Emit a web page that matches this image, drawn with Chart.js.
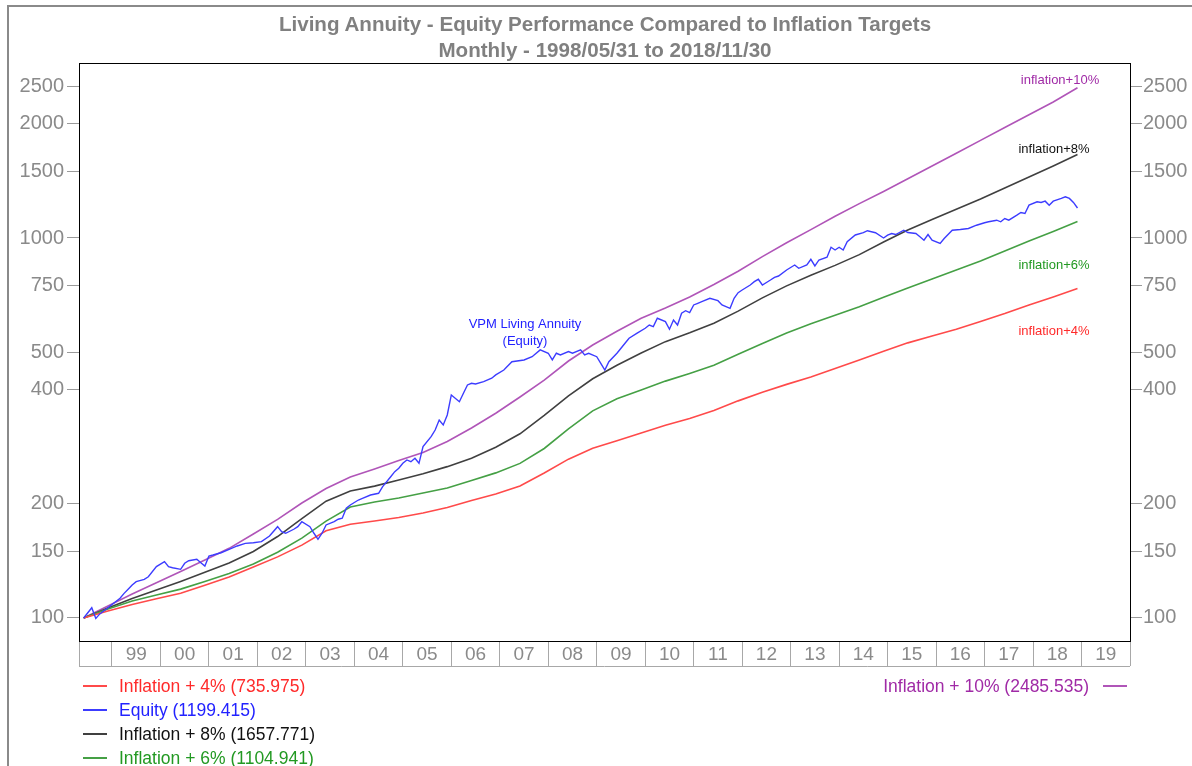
<!DOCTYPE html>
<html>
<head>
<meta charset="utf-8">
<script src="https://cdn.jsdelivr.net/npm/chart.js"></script>
<style>
  html, body { margin:0; padding:0; background:#fff; }
  body { width:1192px; height:766px; overflow:hidden; position:relative; font-family:'Liberation Sans', Arial, sans-serif; }
  #frameTop { position:absolute; left:7px; top:5px; width:1185px; height:2px; background:#8a8a8a; }
  #frameLeft { position:absolute; left:7px; top:5px; width:2px; height:761px; background:#8a8a8a; }
  #title { position:absolute; left:0; top:11px; width:1210px; text-align:center; color:#808080; font-weight:bold; font-size:20.6px; line-height:26px; }
  canvas { position:absolute; left:0; top:0; }
  .leg { position:absolute; font-size:17.5px; line-height:22px; white-space:nowrap; }
  .sw { position:absolute; height:1.5px; width:24px; }
</style>
</head>
<body>
<div id="frameTop"></div>
<div id="frameLeft"></div>
<canvas id="c" width="1192" height="766"></canvas>
<div id="title"></div>
<div id="legend"></div>
<script>
// ---------------- data ----------------
const titleLines = ['Living Annuity - Equity Performance Compared to Inflation Targets', 'Monthly - 1998/05/31 to 2018/11/30'];
const yearLabels = ['99','00','01','02','03','04','05','06','07','08','09','10','11','12','13','14','15','16','17','18','19'];
const yTicks = [100, 150, 200, 400, 500, 750, 1000, 1500, 2000, 2500];

const infDates = ['1998-05','1998-11','1999-05','1999-11','2000-05','2000-11','2001-05','2001-11','2002-05','2002-11',
  '2003-05','2003-11','2004-05','2004-11','2005-05','2005-11','2006-05','2006-11','2007-05','2007-11',
  '2008-05','2008-11','2009-05','2009-11','2010-05','2010-11','2011-05','2011-11','2012-05','2012-11',
  '2013-05','2013-11','2014-05','2014-11','2015-05','2015-11','2016-05','2016-11','2017-05','2017-11',
  '2018-05','2018-11'];
const infl4 = [100, 104.3, 108.5, 112.3, 116.2, 122.0, 128.2, 136.2, 144.8, 155.5,
  169.6, 176.4, 180.0, 183.9, 188.9, 195.4, 203.8, 212.0, 222.6, 240.8,
  261.8, 279.6, 292.8, 306.7, 321.4, 335.0, 351.6, 372.7, 392.6, 411.9,
  430.7, 453.5, 477.2, 503.3, 529.7, 552.0, 575.4, 603.3, 632.8, 666.3,
  699.6, 735.975];
const infl6 = [100, 105.6, 110.8, 114.9, 119.1, 124.8, 130.9, 138.7, 149.0, 162.2,
  179.9, 195.9, 202.0, 206.9, 213.3, 219.8, 230.1, 240.9, 255.2, 279.3,
  314.5, 350.8, 377.6, 398.1, 420.1, 440.1, 462.7, 494.3, 527.9, 562.0,
  595.0, 626.5, 659.4, 698.0, 738.1, 779.5, 823.2, 869.8, 924.3, 982.0,
  1040.2, 1104.941];
const infl8 = [100, 106.3, 112.5, 118.5, 124.8, 131.9, 139.6, 149.6, 163.8, 182.5,
  203.0, 215.8, 222.3, 230.7, 239.5, 250.2, 263.4, 281.4, 305.3, 341.2,
  384.2, 426.1, 462.7, 498.2, 533.6, 563.1, 596.9, 642.1, 695.7, 748.1,
  798.3, 847.1, 904.1, 976.1, 1049.7, 1117.9, 1189.9, 1266.4, 1353.9, 1447.3,
  1546.9, 1657.771];
const infl10 = [100, 107.5, 115.7, 123.8, 132.6, 142.1, 152.5, 166.4, 181.7, 200.7,
  219.2, 235.0, 246.6, 259.7, 272.6, 291.3, 316.2, 345.7, 381.6, 422.5,
  474.5, 522.9, 568.2, 615.1, 654.2, 699.6, 754.7, 817.8, 893.4, 971.3,
  1052.2, 1141.3, 1231.3, 1326.0, 1432.2, 1546.9, 1671.9, 1806.5, 1952.7, 2110.0,
  2279.8, 2485.535];

const eqDates = ['1998-05','1998-07','1998-08','1998-09','1999-02','1999-03','1999-04','1999-05','1999-06','1999-08',
  '1999-09','1999-11','2000-01','2000-02','2000-03','2000-05','2000-06','2000-07','2000-09','2000-10',
  '2000-11','2000-12','2001-01','2001-03','2001-05','2001-07','2001-09','2001-11','2002-01','2002-03',
  '2002-05','2002-06','2002-07','2002-09','2002-10','2002-11','2003-01','2003-02','2003-03','2003-04',
  '2003-05','2003-07','2003-08','2003-09','2003-10','2003-11','2004-01','2004-02','2004-04','2004-06',
  '2004-07','2004-09','2004-10','2004-11','2004-12','2005-01','2005-02','2005-03','2005-04','2005-05',
  '2005-07','2005-08','2005-09','2005-10','2005-11','2005-12','2006-02','2006-03','2006-04','2006-05',
  '2006-06','2006-08','2006-10','2006-11','2007-01','2007-03','2007-06','2007-08','2007-10','2007-12',
  '2008-01','2008-02','2008-03','2008-05','2008-06','2008-08','2008-09','2008-10','2008-12','2009-01',
  '2009-02','2009-03','2009-05','2009-06','2009-07','2009-08','2009-10','2009-12','2010-01','2010-02',
  '2010-03','2010-05','2010-06','2010-07','2010-08','2010-09','2010-10','2010-11','2010-12','2011-01',
  '2011-02','2011-04','2011-06','2011-07','2011-09','2011-10','2011-11','2011-12','2012-02','2012-03',
  '2012-04','2012-05','2012-07','2012-08','2012-09','2012-11','2013-01','2013-02','2013-04','2013-05',
  '2013-06','2013-07','2013-09','2013-10','2013-11','2013-12','2014-01','2014-02','2014-04','2014-06',
  '2014-07','2014-09','2014-11','2014-12','2015-01','2015-02','2015-04','2015-05','2015-07','2015-08',
  '2015-09','2015-10','2015-11','2016-01','2016-02','2016-04','2016-06','2016-08','2016-10','2016-12',
  '2017-01','2017-03','2017-04','2017-05','2017-06','2017-08','2017-09','2017-10','2017-11','2018-01',
  '2018-02','2018-03','2018-04','2018-05','2018-07','2018-08','2018-09','2018-10','2018-11'];
const equity = [100, 106.4, 99.7, 102.5, 112.7, 116.1, 119.0, 122.1, 124.6, 126.4,
  128.4, 136.5, 140.7, 136.5, 135.6, 134.3, 139.3, 141.5, 142.7, 139.8,
  137.0, 145.6, 146.5, 148.5, 151.6, 154.7, 157.2, 157.8, 158.8, 164.3,
  173.9, 168.7, 167.1, 171.2, 173.9, 179.2, 173.9, 167.1, 161.1, 167.1,
  175.7, 179.2, 181.9, 183.0, 194.4, 198.3, 204.4, 206.5, 210.7, 212.9,
  221.6, 235.4, 242.7, 247.7, 255.3, 260.5, 257.8, 263.2, 255.3, 282.4,
  300.0, 312.4, 331.9, 322.0, 342.1, 386.3, 370.8, 390.2, 410.5, 414.7,
  413.0, 418.8, 427.5, 436.1, 449.3, 472.6, 477.5, 487.1, 507.5, 497.4,
  477.5, 497.4, 492.3, 502.3, 497.4, 507.5, 492.3, 497.4, 487.1, 468.0,
  449.3, 472.6, 497.4, 512.8, 528.6, 544.8, 561.6, 578.7, 590.3, 584.3,
  614.8, 602.3, 575.2, 608.4, 590.3, 633.7, 643.7, 636.0, 666.4, 673.3,
  679.9, 694.0, 683.9, 666.4, 653.1, 694.0, 718.0, 729.8, 752.2, 767.4,
  778.6, 752.2, 775.3, 788.1, 794.3, 823.8, 849.1, 832.3, 849.1, 879.0,
  844.0, 875.3, 889.7, 945.3, 930.0, 945.3, 930.0, 977.8, 1018.3, 1032.6,
  1045.2, 1032.6, 1000.0, 1017.1, 1027.6, 1021.4, 1048.3, 1033.9, 1027.6, 1007.3,
  986.8, 1021.4, 986.8, 967.3, 997.0, 1048.3, 1052.8, 1059.3, 1080.6, 1096.5,
  1103.2, 1113.9, 1103.2, 1125.5, 1113.9, 1148.2, 1167.1, 1160.1, 1220.2, 1245.6,
  1240.3, 1250.1, 1220.2, 1250.1, 1270.7, 1283.8, 1270.7, 1240.3, 1199.415];

// ---------------- styling ----------------
const FONT = "'Liberation Sans', Arial, sans-serif";
const series = [
  { name:'Equity',          dates:eqDates,  values:equity, line:'#3c3cff', text:'#2222ff', note:'VPM Living Annuity\n(Equity)' },
  { name:'Inflation + 4%',  dates:infDates, values:infl4,  line:'#ff4a4a', text:'#ff2a2a', note:'inflation+4%' },
  { name:'Inflation + 6%',  dates:infDates, values:infl6,  line:'#45a045', text:'#229922', note:'inflation+6%' },
  { name:'Inflation + 8%',  dates:infDates, values:infl8,  line:'#404040', text:'#111111', note:'inflation+8%' },
  { name:'Inflation + 10%', dates:infDates, values:infl10, line:'#b055b8', text:'#a02aa6', note:'inflation+10%' }
];
const toYear = d => { const p = d.split('-').map(Number); return p[0] + p[1] / 12; };

const xMin = 1998.32, xMax = 2020.0;
const yMin = 86.98, yMax = 2887.6;
const firstYear = 1999;
const xTickValues = [xMin];
yearLabels.forEach((l, i) => { xTickValues.push(firstYear + i, firstYear + i + 0.5); });
xTickValues.push(firstYear + yearLabels.length);

// title
document.getElementById('title').innerHTML = titleLines.map(t => '<div>' + t + '</div>').join('');

// in-plot notes (pixel placement)
const notePos = {
  'Equity':          [525, 324],
  'Inflation + 4%':  [1054, 331],
  'Inflation + 6%':  [1054, 265],
  'Inflation + 8%':  [1054, 149],
  'Inflation + 10%': [1060, 80]
};

const framePlugin = {
  id: 'framePlugin',
  afterDatasetsDraw(chart) {
    const { ctx, chartArea: a } = chart;
    ctx.save();
    ctx.strokeStyle = '#a8a8a8';
    ctx.lineWidth = 1;
    ctx.beginPath();
    ctx.moveTo(a.left, Math.round(a.bottom + 25) + 0.5);
    ctx.lineTo(a.right, Math.round(a.bottom + 25) + 0.5);
    ctx.stroke();
    ctx.strokeStyle = '#000';
    ctx.strokeRect(Math.round(a.left) + 0.5, Math.round(a.top) + 0.5, Math.round(a.right - a.left), Math.round(a.bottom - a.top));
    ctx.font = '13px ' + FONT;
    ctx.textAlign = 'center';
    ctx.textBaseline = 'middle';
    series.forEach(s => {
      const p = notePos[s.name];
      ctx.fillStyle = s.text;
      s.note.split('\n').forEach((ln, i) => ctx.fillText(ln, p[0], p[1] + i * 17));
    });
    ctx.restore();
  }
};

const yAxisCommon = (pos, width, pad) => ({
  type: 'logarithmic', position: pos, min: yMin, max: yMax,
  afterBuildTicks: s => { s.ticks = yTicks.map(v => ({ value: v })); },
  afterFit: s => { s.width = width; },
  ticks: { callback: v => String(v), color: '#8a8a8a', font: { size: 20, family: FONT }, padding: pad, autoSkip: false },
  grid: { drawOnChartArea: false, drawTicks: true, tickLength: 12, color: '#9a9a9a' },
  border: { display: true, color: '#000', width: 1 }
});

new Chart(document.getElementById('c'), {
  type: 'line',
  data: {
    datasets: series.map(s => ({
      label: s.name,
      data: s.dates.map((d, i) => ({ x: toYear(d), y: s.values[i] })),
      borderColor: s.line,
      backgroundColor: s.line,
      borderWidth: s.name === 'Equity' ? 1.4 : 1.6,
      pointRadius: 0,
      tension: 0,
      fill: false,
      yAxisID: 'y'
    }))
  },
  options: {
    responsive: false,
    devicePixelRatio: 1,
    animation: false,
    layout: { padding: { top: 63, left: 0, right: 0, bottom: 0 } },
    plugins: { legend: { display: false }, title: { display: false }, tooltip: { enabled: false } },
    scales: {
      x: {
        type: 'linear', position: 'bottom', min: xMin, max: xMax,
        afterBuildTicks: s => { s.ticks = xTickValues.map(v => ({ value: v })); },
        afterFit: s => { s.height = 125; },
        ticks: {
          autoSkip: false, maxRotation: 0, minRotation: 0, padding: -23,
          color: '#8a8a8a', font: { size: 19, family: FONT },
          callback: v => (Math.abs(v % 1 - 0.5) < 1e-6) ? yearLabels[Math.floor(v) - firstYear] : ''
        },
        grid: {
          drawOnChartArea: false, drawTicks: true, tickLength: 25,
          color: c => (c.tick && Math.abs(c.tick.value % 1 - 0.5) < 1e-6) ? 'rgba(0,0,0,0)' : '#a8a8a8'
        },
        border: { display: true, color: '#000', width: 1 }
      },
      y: yAxisCommon('left', 79, 3),
      y2: yAxisCommon('right', 62, 1)
    }
  },
  plugins: [framePlugin]
});

// legend (HTML text)
const legend = document.getElementById('legend');
const leftOrder = ['Inflation + 4%', 'Equity', 'Inflation + 8%', 'Inflation + 6%'];
leftOrder.forEach((n, i) => {
  const s = series.find(q => q.name === n);
  const cy = 686 + i * 24;
  const label = s.name + ' (' + s.values[s.values.length - 1].toFixed(3) + ')';
  legend.insertAdjacentHTML('beforeend',
    '<div class="sw" style="left:83px;top:' + (cy - 1) + 'px;background:' + s.line + '"></div>' +
    '<div class="leg" style="left:119px;top:' + (cy - 11) + 'px;color:' + s.text + '">' + label + '</div>');
});
{
  const s = series.find(q => q.name === 'Inflation + 10%');
  const cy = 686;
  const label = s.name + ' (' + s.values[s.values.length - 1].toFixed(3) + ')';
  legend.insertAdjacentHTML('beforeend',
    '<div class="sw" style="left:1103px;top:' + (cy - 1) + 'px;background:' + s.line + '"></div>' +
    '<div class="leg" style="right:' + (1192 - 1089) + 'px;top:' + (cy - 11) + 'px;color:' + s.text + '">' + label + '</div>');
}
</script>
</body>
</html>
